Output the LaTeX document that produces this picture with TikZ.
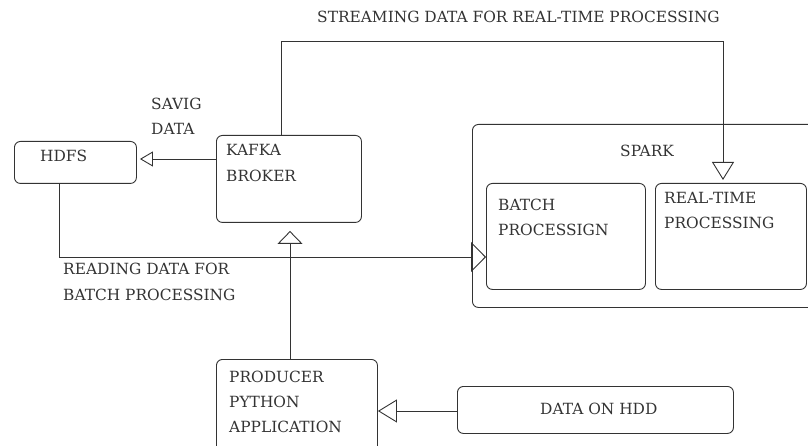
\documentclass[tikz,border=0pt]{standalone}
\usepackage{fontspec}
\setmainfont{DejaVu Serif}
\usetikzlibrary{arrows.meta}
\definecolor{ink}{gray}{0.2}
\begin{document}
\begin{tikzpicture}[x=1pt,y=-1pt,
  box/.style={draw=ink, rounded corners=6pt, line width=0.9pt, anchor=north west, inner sep=0pt},
  txt/.style={anchor=base west, inner sep=0pt, text=ink, font=\fontsize{15.4}{18}\selectfont},
  conn/.style={draw=ink, line width=0.9pt},
  head/.style 2 args={-{Triangle[open, length=#1pt, width=#2pt]}}]
\useasboundingbox (0,0) rectangle (808,446);
% boxes
\node[box, minimum width=122pt, minimum height=42pt] (hdfs) at (14,141) {};
\node[box, minimum width=145pt, minimum height=87pt] (kafka) at (216,135) {};
\node[box, minimum width=345pt, minimum height=183pt] (spark) at (472,124) {};
\node[box, minimum width=159pt, minimum height=106pt] (batch) at (486,183) {};
\node[box, minimum width=151pt, minimum height=106pt] (rt) at (655,183) {};
\node[box, minimum width=161pt, minimum height=95pt] (prod) at (216,359) {};
\node[box, minimum width=276pt, minimum height=47pt] (hdd) at (457,386) {};
% texts
\node[txt] (thdfs) at (40,162) {HDFS};
\node[txt] (tk1) at (226,156) {KAFKA};
\node[txt] (tk2) at (226,182) {BROKER};
\node[txt] (tsp) at (620,157) {SPARK};
\node[txt] (tb1) at (498,211) {BATCH};
\node[txt] (tb2) at (498,236) {PROCESSIGN};
\node[txt] (tr1) at (664,204) {REAL-TIME};
\node[txt] (tr2) at (664,229) {PROCESSING};
\node[txt] (tp1) at (229,382) {PRODUCER};
\node[txt] (tp2) at (229,407) {PYTHON};
\node[txt] (tp3) at (229,432) {APPLICATION};
\node[txt] (thdd) at (540,414) {DATA ON HDD};
\node[txt] (ts1) at (151,110) {SAVIG};
\node[txt] (ts2) at (151,135) {DATA};
\node[txt] (trd1) at (63,274) {READING DATA FOR};
\node[txt] (trd2) at (63,300) {BATCH PROCESSING};
\node[txt] (tstr) at (317,23) {STREAMING DATA FOR REAL-TIME PROCESSING};
% connectors
\draw[conn, head={13}{15}, shorten >=3pt] (kafka.west |- 0,159) -- (hdfs.east |- 0,159);
\draw[conn, head={18}{22}, shorten >=3pt] (kafka.north -| 281,0) -- (281,41) -- (723,41) -- (rt.north -| 723,0);
\draw[conn, head={15}{30}] (hdfs.south -| 59,0) -- (59,257) -- (batch.west |- 0,257);
\draw[conn, head={13}{25}, shorten >=8pt] (prod.north -| 290,0) -- (kafka.south -| 290,0);
\draw[conn, head={19}{23}] (hdd.west |- 0,411) -- (prod.east |- 0,411);
\end{tikzpicture}
\end{document}
